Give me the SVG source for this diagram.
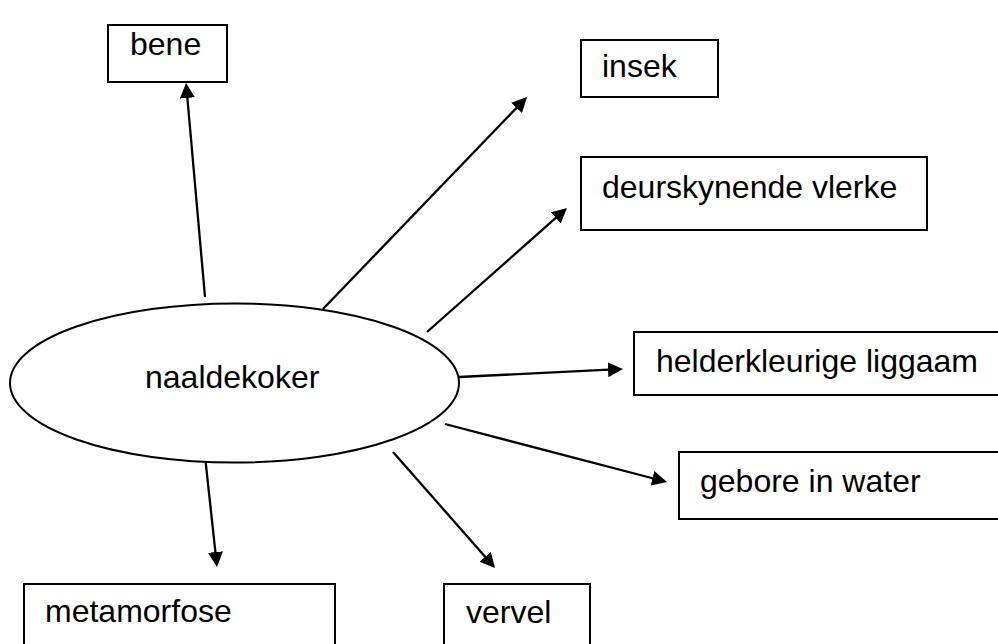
<svg xmlns="http://www.w3.org/2000/svg" width="998" height="644" viewBox="0 0 998 644">
  <style>
    .box { fill: #ffffff; stroke: #000000; stroke-width: 2; }
    .hub { fill: #ffffff; stroke: #000000; stroke-width: 2; }
    .label { font-family: "Liberation Sans", Arial, sans-serif; font-size: 32px; fill: #000000; }
    .link { stroke: #000000; stroke-width: 2.3; fill: none; marker-end: url(#head); }
  </style>
  <defs>
    <marker id="head" markerUnits="userSpaceOnUse" markerWidth="16" markerHeight="15" refX="11" refY="7.5" orient="auto">
      <path d="M0,0 L15,7.5 L0,15 Z" fill="#000000"/>
    </marker>
  </defs>
  <rect width="998" height="644" fill="#ffffff"/>

  <!-- connectors: each line stops 4px short of the arrow tip -->
  <g id="connectors">
    <line class="link" x1="205" y1="297" x2="186.4" y2="87"/>
    <line class="link" x1="323" y1="309" x2="524.2" y2="99.9"/>
    <line class="link" x1="427" y1="332" x2="564" y2="210.6"/>
    <line class="link" x1="459" y1="377" x2="619" y2="369.2"/>
    <line class="link" x1="445" y1="424" x2="663.1" y2="481"/>
    <line class="link" x1="393" y1="452" x2="492.4" y2="565"/>
    <line class="link" x1="204" y1="447" x2="216.6" y2="563"/>
  </g>

  <g id="naaldekoker">
    <ellipse class="hub" cx="234.5" cy="383" rx="224.5" ry="79.5"/>
    <text class="label" x="145" y="388">naaldekoker</text>
  </g>

  <g id="bene">
    <rect class="box" x="108" y="25" width="119" height="57"/>
    <text class="label" x="130" y="55">bene</text>
  </g>

  <g id="insek">
    <rect class="box" x="581" y="40" width="137" height="57"/>
    <text class="label" x="602" y="77">insek</text>
  </g>

  <g id="deurskynende-vlerke">
    <rect class="box" x="581" y="157" width="346" height="73"/>
    <text class="label" x="602" y="198">deurskynende vlerke</text>
  </g>

  <g id="helderkleurige-liggaam">
    <rect class="box" x="634" y="332" width="380" height="63"/>
    <text class="label" x="656" y="372">helderkleurige liggaam</text>
  </g>

  <g id="gebore-in-water">
    <rect class="box" x="679" y="452" width="340" height="67"/>
    <text class="label" x="700" y="492">gebore in water</text>
  </g>

  <g id="metamorfose">
    <rect class="box" x="24" y="584" width="311" height="80"/>
    <text class="label" x="45" y="622">metamorfose</text>
  </g>

  <g id="vervel">
    <rect class="box" x="444" y="584" width="146" height="80"/>
    <text class="label" x="466" y="623">vervel</text>
  </g>
</svg>
